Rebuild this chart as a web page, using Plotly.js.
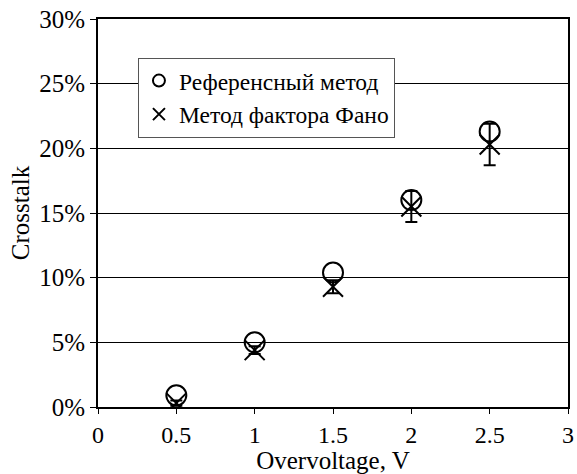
<!DOCTYPE html>
<html>
<head>
<meta charset="utf-8">
<script src="https://cdn.plot.ly/plotly-3.0.1.min.js"></script>
<style>html,body{margin:0;padding:0;background:#fff}#chart{width:577px;height:474px}</style>
</head>
<body>
<div id="chart"></div>
<script>
var overvoltage = [0.5, 1, 1.5, 2, 2.5];
var refMethod = [0.9, 5.0, 10.4, 16.0, 21.3];
var fanoMethod = [0.3, 4.4, 9.3, 15.5, 20.3];
var fanoError = [0.2, 0.3, 0.5, 1.2, 1.6];
var seriesNames = ['Референсный метод', 'Метод фактора Фано'];
var yTicks = [0, 5, 10, 15, 20, 25, 30];
var yTickLabels = ['0%', '5%', '10%', '15%', '20%', '25%', '30%'];
var xTicks = [0, 0.5, 1, 1.5, 2, 2.5, 3];
var xTickLabels = ['0', '0.5', '1', '1.5', '2', '2.5', '3'];

var font = 'Liberation Serif';

var traces = [
  {
    x: overvoltage, y: refMethod, name: seriesNames[0], type: 'scatter', mode: 'markers',
    legendgroup: 'a',
    marker: {symbol: 'circle-open', size: 20, color: '#000', line: {width: 2, color: '#000'}}
  },
  {
    x: overvoltage, y: fanoMethod, name: seriesNames[1], type: 'scatter', mode: 'markers',
    legendgroup: 'b',
    marker: {symbol: 'x-thin-open', size: 20, color: '#000', line: {width: 2, color: '#000'}},
    error_y: {type: 'data', array: fanoError, visible: true, color: '#000', thickness: 2, width: 6}
  }
];

var layout = {
  width: 577, height: 474,
  margin: {l: 98, r: 9, t: 19, b: 67},
  paper_bgcolor: '#fff', plot_bgcolor: '#fff',
  font: {family: font, color: '#000000', size: 24},
  showlegend: true,
  legend: {
    x: 0.085, y: 0.9, xanchor: 'left', yanchor: 'top',
    bgcolor: '#fff', bordercolor: '#555', borderwidth: 1,
    font: {family: font, size: 23.5, color: '#000000'},
    itemsizing: 'constant', traceorder: 'grouped', tracegroupgap: 0
  },
  xaxis: {
    range: [0, 3], tickvals: xTicks, ticktext: xTickLabels,
    showgrid: false, zeroline: false,
    showline: true, linecolor: '#000', linewidth: 2, mirror: true,
    ticks: 'outside', ticklen: 5, tickwidth: 1, tickcolor: '#000',
    tickfont: {family: font, size: 24, color: '#000000'},
    title: {text: 'Overvoltage, V', font: {family: font, size: 25, color: '#000000'}, standoff: 0}
  },
  yaxis: {
    range: [0, 30], tickvals: yTicks, ticktext: yTickLabels,
    showgrid: true, gridcolor: '#000', gridwidth: 1, zeroline: false,
    showline: true, linecolor: '#000', linewidth: 2, mirror: true,
    ticks: 'outside', ticklen: 6, tickwidth: 1, tickcolor: '#000',
    tickfont: {family: font, size: 25, color: '#000000'},
    title: {text: 'Crosstalk', font: {family: font, size: 25, color: '#000000'}, standoff: 2}
  }
};

Plotly.newPlot('chart', traces, layout, {displayModeBar: false, staticPlot: true});
</script>
</body>
</html>
